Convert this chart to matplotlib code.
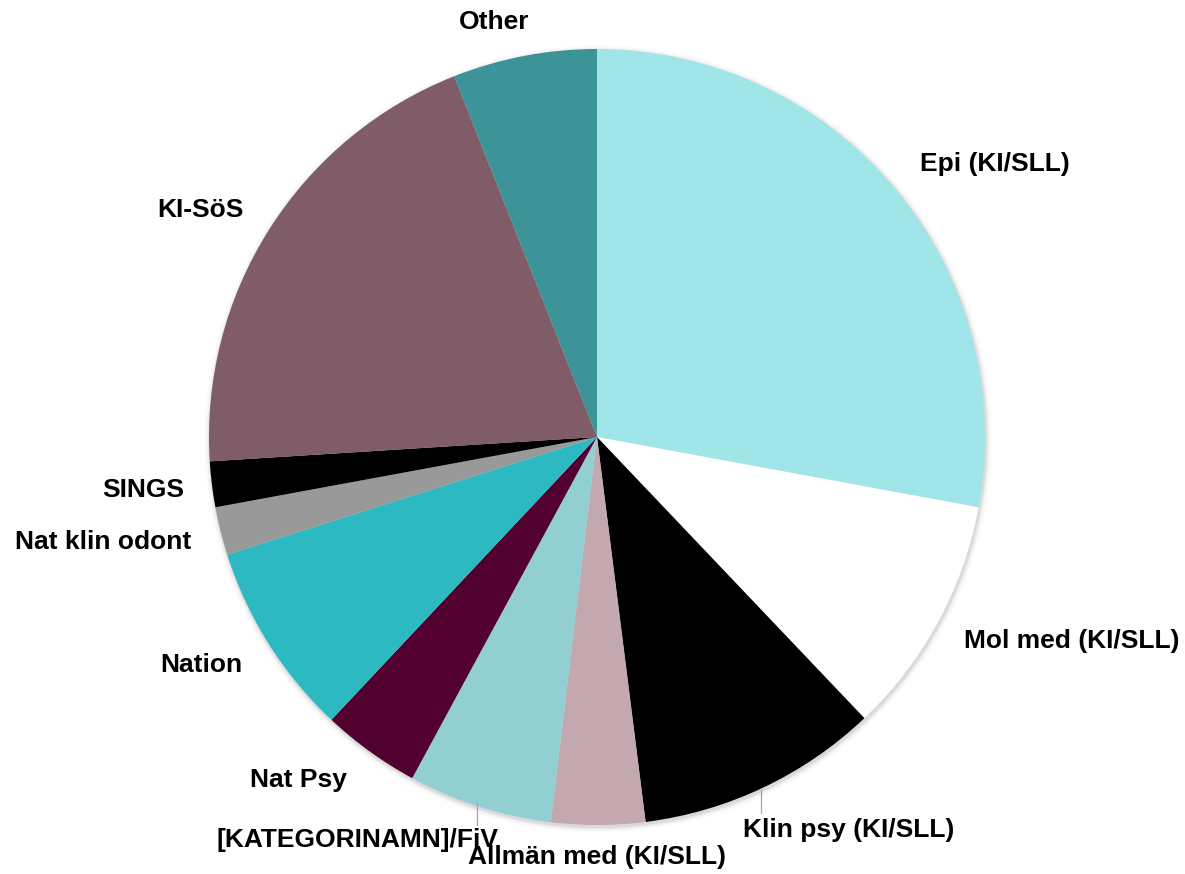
import matplotlib
matplotlib.use("Agg")
import matplotlib.pyplot as plt
from matplotlib.patches import Circle

categories = ["Epi (KI/SLL)", "Mol med (KI/SLL)", "Klin psy (KI/SLL)", "Allmän med (KI/SLL)",
              "[KATEGORINAMN]/FiV", "Nat Psy", "Nation", "Nat klin odont", "SINGS",
              "KI-SöS", "Other"]
values = [27.9, 10.0, 10.1, 3.9, 6.0, 4.1, 8.1, 2.0, 1.9, 20.0, 6.0]
colors = ["#A0E6E8", "#FFFFFF", "#000000", "#C4A8B0", "#92CFD2", "#520030",
          "#2DB9C1", "#999999", "#000000", "#7F5C67", "#3C9398"]

# label positions in image pixels (x, y from top)
label_pos = [(995, 164), (1072, 641), (849, 830), (597, 857), (357, 840), (298, 780),
             (201, 665), (103, 542), (143, 490), (200, 210), (494, 22)]

W, H = 1185, 874
fig = plt.figure(figsize=(W / 100, H / 100), dpi=100)
ax = fig.add_axes([0, 0, 1, 1])

cx, cy, r = 597, H - 437, 388

# soft shadow
for i, a in enumerate([0.05, 0.035, 0.025, 0.015, 0.01, 0.006]):
    ax.add_patch(Circle((cx + 1, cy - 2), r + 1 + i, color="black", alpha=a, lw=0, zorder=0))

ax.pie(values, colors=colors, startangle=90, counterclock=False,
       center=(cx, cy), radius=r, frame=True,
       wedgeprops=dict(linewidth=0, zorder=1))
ax.set_xlim(0, W)
ax.set_ylim(0, H)
ax.set_aspect("equal")
ax.axis("off")

for lab, (x, y) in zip(categories, label_pos):
    ax.text(x, H - y, lab, ha="center", va="center", fontsize=19,
            fontweight="bold", family="Liberation Sans", color="black", zorder=5)

# leader lines
ax.plot([761, 761], [H - 788, H - 813], color="#A6A6A6", lw=0.9, zorder=3)
ax.plot([477, 477], [H - 803, H - 825], color="#A6A6A6", lw=0.9, zorder=3)

fig.savefig("out.png", dpi=100)
